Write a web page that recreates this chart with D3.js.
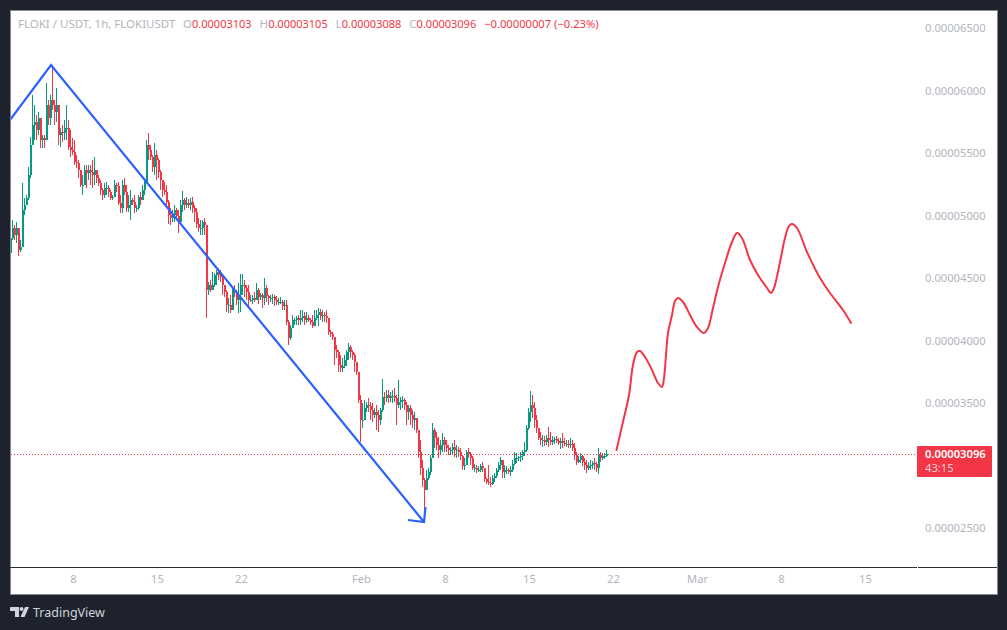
<!DOCTYPE html>
<html>
<head>
<meta charset="utf-8">
<script src="https://cdn.jsdelivr.net/npm/d3@7"></script>
<style>
    html, body { margin: 0; padding: 0; background: #1e222d; }
    svg { display: block; }
    text { font-family: "Noto Sans", sans-serif; }
</style>
</head>
<body>
<svg id="chart" width="1007" height="630"></svg>
<script>
// prices are in units of 0.00000001, one candle every 4 hours, one row per 24 hours
const START_TIME = "2022-01-02T20:00Z";
const CANDLE_HOURS = 4;
const FIRST_OPEN = 4700;
const LAST_PRICE = 3096;

const highs = [
    4948,4964,4924,4948,4804,4804, 5260,5140,5164,5388,5628,5964,
    5884,5804,5828,5764,5644,5644, 6060,5924,5964,6204,5924,6020,
    5804,5700,5724,5764,5884,5764, 5684,5620,5604,5484,5444,5364,
    5324,5404,5404,5404,5404,5444, 5468,5364,5324,5284,5220,5260,
    5268,5244,5204,5164,5284,5260, 5268,5164,5284,5300,5244,5164,
    5204,5140,5164,5084,5164,5188, 5244,5300,5604,5660,5564,5484,
    5580,5524,5460,5364,5284,5268, 5244,5124,5060,5044,5084,5060,
    5044,5124,5196,5140,5148,5132, 5140,5148,5084,5060,4980,4964,
    4964,4980,4924,4468,4484,4548, 4540,4564,4580,4564,4524,4444,
    4404,4340,4364,4428,4444,4404, 4460,4532,4532,4484,4444,4444,
    4364,4364,4388,4460,4420,4380, 4380,4500,4444,4364,4364,4372,
    4364,4356,4340,4348,4324,4324, 4324,4164,4124,4204,4180,4196,
    4204,4244,4244,4228,4228,4204, 4180,4204,4244,4244,4260,4252,
    4244,4228,4244,4180,4084,4068, 4004,3964,3924,3884,3860,3884,
    3924,3980,3964,3924,3900,3828, 3748,3564,3500,3524,3508,3540,
    3508,3500,3460,3484,3444,3460, 3692,3588,3604,3604,3588,3604,
    3620,3564,3684,3548,3556,3540, 3508,3484,3484,3444,3428,3380,
    3284,3204,3044,2900,2964,2980, 3084,3340,3300,3268,3228,3204,
    3260,3228,3204,3164,3148,3180, 3204,3164,3148,3140,3084,3060,
    3124,3140,3108,3076,3012,3004, 2996,3012,3028,2980,2900,3004,
    2908,2924,2940,2980,3028,3068, 3044,3004,2996,2980,2996,3044,
    3108,3100,3076,3108,3124,3188, 3324,3460,3596,3564,3508,3404,
    3300,3268,3244,3236,3244,3308, 3268,3236,3228,3236,3220,3220,
    3260,3220,3204,3204,3220,3204, 3180,3108,3076,3100,3084,3060,
    3044,3028,3044,3036,3060,3028, 3140,3108,3100,3100,3124
];
const lows = [
    4644,4804,4804,4780,4676,4708, 4900,5004,5084,5124,5300,5564,
    5604,5604,5644,5540,5540,5540, 5604,5724,5724,5844,5724,5748,
    5564,5548,5588,5604,5604,5524, 5468,5484,5404,5380,5300,5228,
    5164,5268,5220,5284,5244,5220, 5244,5260,5236,5164,5124,5140,
    5164,5148,5124,5124,5164,5188, 5084,5020,5020,5164,5028,5028,
    4964,5084,5020,5028,5044,5084, 5124,5164,5284,5444,5444,5348,
    5324,5284,5300,5204,5148,5164, 5084,4932,4924,4948,4948,4964,
    4860,4924,5028,5044,5060,5060, 5044,5020,4948,4900,4868,4844,
    4844,4844,4180,4364,4388,4404, 4428,4444,4484,4468,4364,4348,
    4228,4220,4220,4244,4348,4284, 4220,4228,4364,4348,4324,4276,
    4308,4292,4308,4324,4292,4324, 4260,4284,4308,4284,4308,4292,
    4276,4284,4284,4292,4244,4244, 4124,3964,4004,4100,4124,4124,
    4124,4124,4148,4124,4140,4148, 4124,4100,4124,4164,4116,4164,
    4148,4148,4140,4044,4028,4004, 3804,3860,3748,3748,3748,3780,
    3796,3844,3860,3844,3748,3724, 3500,3188,3300,3404,3428,3428,
    3364,3348,3380,3284,3268,3324, 3428,3484,3508,3500,3508,3500,
    3508,3324,3460,3444,3460,3444, 3324,3364,3324,3300,3284,3260,
    3060,2924,2828,2548,2820,2884, 2924,3164,3140,3124,3060,3084,
    3108,3108,3108,3084,3084,3084, 3068,3060,3068,3044,2964,2964,
    3028,3060,3004,2964,2948,2940, 2948,2948,2948,2868,2852,2844,
    2828,2844,2868,2900,2948,2964, 2900,2900,2932,2932,2916,2948,
    3004,3020,3036,3028,3044,3076, 3108,3284,3348,3380,3300,3260,
    3204,3164,3148,3156,3164,3148, 3164,3164,3172,3180,3164,3132,
    3140,3156,3148,3140,3140,3116, 3044,3004,3020,3020,2996,2964,
    2940,2964,2964,2972,2964,2948, 2932,3028,3044,3052,3068
];
const closes = [
    4820,4900,4844,4900,4724,4748, 5044,5084,5140,5324,5564,5724,
    5748,5684,5780,5604,5620,5604, 5884,5780,5924,5884,5828,5884,
    5644,5668,5660,5700,5700,5548, 5524,5508,5428,5420,5364,5244,
    5244,5364,5340,5364,5348,5324, 5364,5300,5260,5204,5164,5220,
    5220,5188,5140,5148,5244,5236, 5100,5060,5244,5188,5060,5084,
    5124,5108,5060,5060,5148,5124, 5204,5268,5564,5524,5468,5388,
    5484,5444,5348,5284,5204,5188, 5108,5004,4980,5004,5044,4996,
    4948,5084,5124,5084,5100,5084, 5108,5060,5028,4932,4900,4900,
    4948,4924,4404,4444,4404,4444, 4524,4548,4524,4508,4444,4388,
    4284,4284,4244,4404,4388,4324, 4364,4444,4444,4420,4388,4324,
    4324,4340,4324,4404,4348,4364, 4340,4420,4356,4340,4340,4348,
    4324,4308,4308,4308,4276,4284, 4148,4020,4100,4164,4164,4180,
    4164,4180,4196,4164,4180,4164, 4148,4116,4180,4204,4228,4196,
    4204,4196,4180,4068,4052,4028, 3924,3908,3804,3780,3796,3844,
    3908,3948,3908,3884,3828,3748, 3524,3364,3364,3460,3484,3476,
    3444,3404,3428,3404,3364,3444, 3548,3540,3564,3540,3556,3556,
    3540,3484,3508,3524,3524,3484, 3428,3460,3404,3364,3380,3284,
    3108,2980,2884,2804,2900,2948, 3060,3284,3220,3164,3124,3164,
    3204,3164,3140,3124,3124,3148, 3124,3124,3108,3076,2996,3004,
    3108,3092,3060,2980,2980,2964, 2964,2996,2980,2892,2868,2860,
    2852,2900,2916,2964,3004,3044, 2948,2964,2964,2948,2964,3012,
    3060,3060,3068,3076,3108,3124, 3300,3428,3484,3460,3364,3300,
    3220,3204,3204,3188,3220,3204, 3188,3204,3212,3196,3180,3196,
    3180,3172,3172,3164,3172,3140, 3084,3028,3044,3076,3028,3004,
    2980,2996,3004,3020,3012,2980, 3084,3060,3076,3076,3096
];

// hand drawn projection, hours after FORECAST_START
const FORECAST_START = "2022-02-22T00:00Z";
const forecastHours = [7,20,32,40,48,54,64,78,90,98,102,106,110,118,124,130,140,154,168,182,190,200,210,224,238,248,258,274,290,308,316,322,334,344,352,358,368,388,414,434,460,476];
const forecastPrices = [3124,3350,3564,3804,3908,3916,3868,3764,3660,3628,3700,3884,4060,4204,4316,4340,4308,4204,4108,4060,4100,4260,4428,4620,4788,4860,4820,4644,4524,4420,4380,4420,4628,4820,4916,4932,4900,4708,4500,4380,4244,4140];

// blue trend arrow
const trendTimes = ["2022-01-02T18:00Z", "2022-01-06T04:00Z", "2022-02-06T06:00Z"];
const trendPrices = [5764, 6204, 2548];
const arrowTimes = ["2022-02-04T22:00Z", "2022-02-06T06:00Z", "2022-02-06T09:00Z"];
const arrowPrices = [2564, 2548, 2668];

const priceTicks = [2500, 3500, 4000, 4500, 5000, 5500, 6000, 6500];
const dateTicks = ["2022-01-08", "2022-01-15", "2022-01-22", "2022-02-01", "2022-02-08", "2022-02-15", "2022-02-22", "2022-03-01", "2022-03-08", "2022-03-15"];

const legendParts = [
    ["FLOKI / USDT, 1h, FLOKIUSDT", "#b2b5be", 0, 11.5],
    ["O", "#b2b5be", 8, 11.5], ["0.00003103", "#f23645", 0, 11],
    ["H", "#b2b5be", 8, 11.5], ["0.00003105", "#f23645", 0, 11],
    ["L", "#b2b5be", 8, 11.5], ["0.00003088", "#f23645", 0, 11],
    ["C", "#b2b5be", 8, 11.5], ["0.00003096", "#f23645", 0, 11],
    ["−0.00000007 (−0.23%)", "#f23645", 8, 11.2]
];

const GREEN = "#089981", RED = "#f23645", BLUE = "#2962ff", LABEL = "#b2b5be", FRAME = "#1e222d";
const PANE = {left: 11, right: 917, top: 11, bottom: 567};

const svg = d3.select("#chart");

const x = d3.scaleUtc()
    .domain([new Date(START_TIME), new Date("2022-03-19T08:00Z")])
    .range([PANE.left, PANE.right]);
const y = d3.scaleLinear()
    .domain([2188, 6636])
    .range([PANE.bottom, PANE.top]);

svg.append("rect").attr("width", 1007).attr("height", 630).attr("fill", FRAME);
svg.append("rect")
    .attr("x", 10.5).attr("y", 10.5).attr("width", 987).attr("height", 584)
    .attr("fill", "#fff").attr("stroke", "#868993");

svg.append("clipPath").attr("id", "pane").append("rect")
    .attr("x", PANE.left).attr("y", PANE.top)
    .attr("width", PANE.right - PANE.left).attr("height", PANE.bottom - PANE.top);

// axes
const priceAxis = d3.axisRight(y)
    .tickValues(priceTicks)
    .tickSize(0)
    .tickPadding(8)
    .tickFormat(d => (d / 1e8).toFixed(8));
const yAxisG = svg.append("g").attr("transform", `translate(${PANE.right},0)`).call(priceAxis);

const monthName = d3.utcFormat("%b"), dayNumber = d3.utcFormat("%-d");
const timeAxis = d3.axisBottom(x)
    .tickValues(dateTicks.map(d => new Date(d + "T00:00Z")))
    .tickSize(0)
    .tickPadding(8)
    .tickFormat(d => d.getUTCDate() === 1 ? monthName(d) : dayNumber(d));
const xAxisG = svg.append("g").attr("transform", `translate(0,${PANE.bottom})`).call(timeAxis);

[yAxisG, xAxisG].forEach(g => {
    g.select(".domain").remove();
    g.selectAll("text").attr("fill", LABEL).style("font-size", "11.2px").style("font-family", '"Noto Sans", sans-serif');
});

svg.append("line").attr("x1", 10).attr("x2", 917).attr("y1", 567.5).attr("y2", 567.5).attr("stroke", "#2a2e39");
svg.append("line").attr("x1", 918).attr("x2", 997).attr("y1", 567.5).attr("y2", 567.5).attr("stroke", "#2a2e39");

// candles
const candles = closes.map((c, i) => ({
    time: d3.utcHour.offset(new Date(START_TIME), i * CANDLE_HOURS),
    open: i ? closes[i - 1] : FIRST_OPEN,
    high: highs[i],
    low: lows[i],
    close: c
}));
const pane = svg.append("g").attr("clip-path", "url(#pane)");
const candleG = pane.selectAll("g.candle").data(candles).join("g")
    .attr("class", "candle")
    .attr("fill", d => d.close >= d.open ? GREEN : RED)
    .attr("stroke", d => d.close >= d.open ? GREEN : RED)
    .attr("shape-rendering", "crispEdges");
candleG.append("line")
    .attr("x1", d => x(d.time) - 0.5).attr("x2", d => x(d.time) - 0.5)
    .attr("y1", d => y(d.high)).attr("y2", d => y(d.low))
    .attr("stroke-width", 1);
candleG.append("rect")
    .attr("x", d => x(d.time) - 1)
    .attr("width", 2)
    .attr("y", d => y(Math.max(d.open, d.close)))
    .attr("height", d => Math.max(1, Math.abs(y(d.open) - y(d.close))))
    .attr("stroke", "none");

// last price line and tag
pane.append("line")
    .attr("x1", PANE.left).attr("x2", PANE.right)
    .attr("y1", Math.round(y(LAST_PRICE)) + 0.5).attr("y2", Math.round(y(LAST_PRICE)) + 0.5)
    .attr("stroke", RED).attr("stroke-dasharray", "1 2");

// drawings
const trendLine = d3.line().x(d => x(new Date(d[0]))).y(d => y(d[1]));
pane.append("path")
    .attr("d", trendLine(d3.zip(trendTimes, trendPrices)))
    .attr("fill", "none").attr("stroke", BLUE).attr("stroke-width", 2.2);
pane.append("path")
    .attr("d", trendLine(d3.zip(arrowTimes, arrowPrices)))
    .attr("fill", "none").attr("stroke", BLUE).attr("stroke-width", 2.2);

const forecastStart = new Date(FORECAST_START);
const forecastLine = d3.line()
    .x(d => x(d3.utcHour.offset(forecastStart, d[0])))
    .y(d => y(d[1]))
    .curve(d3.curveCatmullRom.alpha(0.5));
pane.append("path")
    .attr("d", forecastLine(d3.zip(forecastHours, forecastPrices)))
    .attr("fill", "none").attr("stroke", "#f23645").attr("stroke-width", 2).attr("stroke-linecap", "round");

const tagY = Math.round(y(LAST_PRICE));
svg.append("rect")
    .attr("x", PANE.right).attr("y", tagY - 8).attr("width", 75).attr("height", 31)
    .attr("rx", 1).attr("fill", "#f23645");
svg.append("text")
    .attr("x", 925).attr("y", tagY + 4)
    .attr("fill", "#fff").style("font-size", "11.2px").style("font-weight", 600)
    .text((LAST_PRICE / 1e8).toFixed(8));
svg.append("text")
    .attr("x", 925).attr("y", tagY + 18)
    .attr("fill", "#fff").attr("fill-opacity", 0.75).style("font-size", "11.2px")
    .text("43:15");

// legend
const legend = svg.append("text").attr("x", 18).attr("y", 28);
legend.selectAll("tspan").data(legendParts).join("tspan")
    .attr("fill", d => d[1])
    .attr("dx", d => d[2])
    .style("font-size", d => d[3] + "px")
    .text(d => d[0]);

// footer logo
const logo = svg.append("g").attr("fill", "#d1d4dc");
logo.append("path").attr("d", "M10 607h9v10h-4v-6h-5z");
logo.append("circle").attr("cx", 21.5).attr("cy", 609).attr("r", 2);
logo.append("path").attr("d", "M25 607h4l-4.500 10h-4z");
svg.append("text")
    .attr("x", 33).attr("y", 617)
    .attr("fill", "#d1d4dc").style("font-size", "12.5px")
    .text("TradingView");
</script>
</body>
</html>
